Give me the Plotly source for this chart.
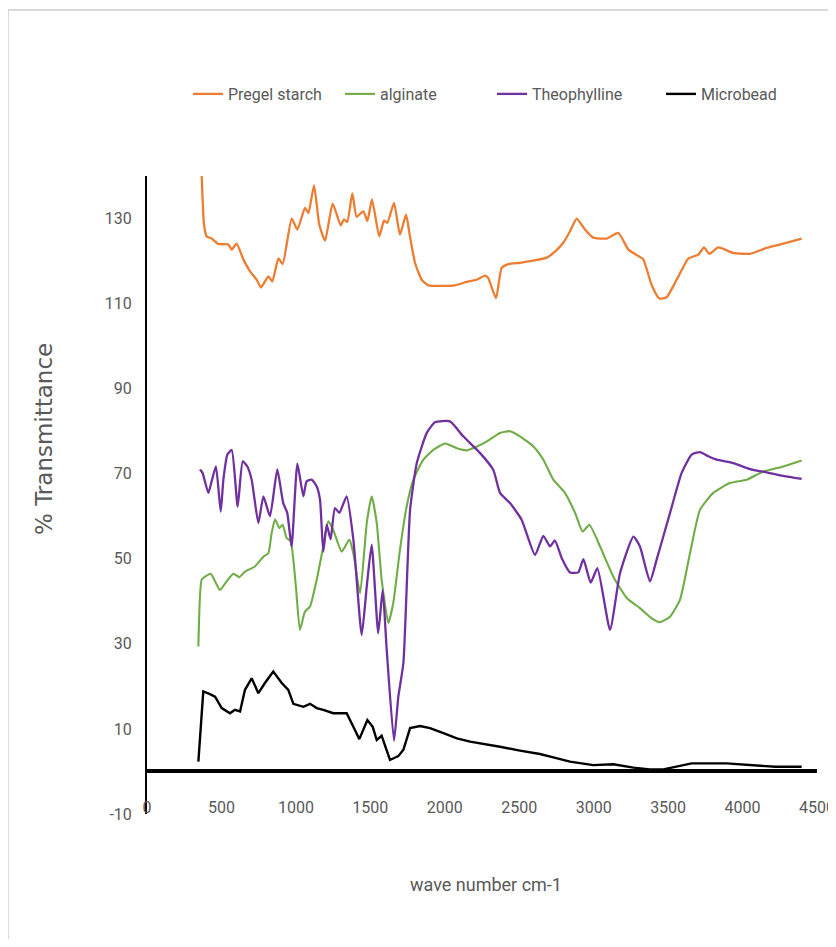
import plotly.graph_objects as go

# ---- data ----
starch_x = [367, 383, 401, 434, 479, 546, 569, 602, 647, 692, 737, 766, 815, 842, 882, 911, 972, 1010, 1061, 1084,
            1122, 1157, 1196, 1247, 1301, 1323, 1345, 1379, 1408, 1453, 1480, 1511, 1560, 1592, 1614, 1659, 1699, 1740,
            1766, 1800, 1845, 1890, 2069, 2147, 2214, 2270, 2292, 2344, 2382, 2427, 2505, 2595, 2685, 2740, 2796, 2841,
            2886, 2942, 2997, 3088, 3166, 3233, 3289, 3333, 3390, 3441, 3490, 3557, 3636, 3703, 3741, 3777, 3837, 3938,
            4050, 4162, 4274, 4397]
starch_y = [140.5, 128.6, 125.8, 125.3, 124.0, 123.9, 122.7, 124.1, 120.4, 117.6, 115.6, 113.8, 116.4, 115.2, 120.6,
            119.3, 130.0, 127.4, 132.5, 131.3, 137.8, 128.6, 124.8, 133.5, 128.4, 129.8, 129.2, 135.9, 130.4, 131.7,
            129.4, 134.5, 125.8, 129.5, 129.0, 133.7, 126.2, 130.9, 125.8, 119.6, 115.6, 114.3, 114.3, 115.1, 115.6,
            116.6, 116.0, 111.3, 118.4, 119.3, 119.6, 120.1, 120.8, 122.2, 124.3, 127.0, 130.0, 127.4, 125.5, 125.3,
            126.6, 122.7, 121.4, 120.4, 114.3, 111.2, 111.5, 115.6, 120.6, 121.5, 123.2, 121.7, 123.2, 121.9, 121.7,
            123.1, 124.1, 125.3]

alginate_x = [345, 367, 390, 428, 490, 535, 580, 620, 658, 725, 782, 815, 837, 860, 889, 911, 938, 965, 1000, 1027,
              1061, 1095, 1140, 1184, 1218, 1251, 1308, 1359, 1386, 1431, 1476, 1509, 1543, 1576, 1621, 1654, 1699,
              1744, 1789, 1856, 1923, 2002, 2081, 2149, 2216, 2283, 2371, 2438, 2505, 2595, 2662, 2729, 2807, 2875,
              2926, 2971, 3043, 3132, 3222, 3311, 3390, 3446, 3513, 3580, 3647, 3714, 3803, 3915, 4028, 4140, 4274,
              4397]
alginate_y = [29.4, 45.1, 45.8, 46.5, 42.7, 44.7, 46.5, 45.7, 47.0, 48.2, 50.5, 51.3, 56.0, 59.3, 57.2, 58.0, 54.9,
              54.1, 43.5, 33.3, 37.6, 38.8, 45.1, 52.9, 58.8, 56.8, 51.7, 54.5, 51.3, 41.9, 58.4, 64.7, 58.4, 45.1,
              34.9, 39.6, 52.1, 62.3, 68.6, 73.3, 75.6, 77.1, 76.0, 75.5, 76.4, 77.6, 79.6, 80.0, 78.8, 76.4, 73.3,
              68.6, 65.5, 60.8, 56.4, 58.0, 52.9, 45.8, 40.8, 38.4, 36.0, 35.1, 36.4, 40.4, 51.3, 61.5, 65.5, 67.8,
              68.6, 70.5, 71.7, 73.1]

theo_x = [356, 373, 412, 434, 463, 495, 513, 540, 569, 609, 643, 674, 703, 748, 782, 826, 875, 915, 942, 971, 1010,
          1050, 1072, 1106, 1140, 1162, 1184, 1207, 1233, 1262, 1292, 1341, 1386, 1442, 1476, 1509, 1553, 1583, 1610,
          1659, 1688, 1722, 1767, 1812, 1879, 1934, 2035, 2124, 2236, 2326, 2371, 2438, 2516, 2606, 2662, 2707, 2740,
          2785, 2841, 2897, 2931, 2980, 3025, 3110, 3177, 3267, 3311, 3378, 3423, 3513, 3591, 3658, 3714, 3770, 3826,
          3938, 4050, 4162, 4274, 4397]
theo_y = [71.0, 70.2, 65.5, 68.2, 71.7, 61.1, 68.6, 74.5, 75.6, 62.3, 72.9, 71.7, 68.6, 58.4, 64.7, 60.0, 71.0, 63.1,
          60.8, 52.9, 72.4, 64.7, 68.2, 68.6, 67.0, 63.9, 51.7, 58.0, 54.6, 61.9, 60.8, 64.7, 54.5, 32.1, 43.5, 53.3,
          32.5, 42.7, 28.6, 7.2, 17.6, 25.5, 61.5, 72.5, 79.6, 82.1, 82.3, 78.8, 74.9, 70.9, 65.5, 63.1, 59.2, 50.9,
          55.4, 52.9, 54.3, 50.2, 46.8, 46.8, 49.9, 44.4, 47.8, 33.3, 46.6, 55.2, 52.9, 44.7, 49.8, 60.8, 70.2, 74.5,
          75.1, 74.1, 73.3, 72.5, 71.1, 70.3, 69.5, 68.8]

micro_x = [345, 378, 423, 457, 502, 557, 591, 625, 658, 703, 748, 792, 848, 905, 949, 983, 1050, 1095, 1140, 1184,
           1251, 1341, 1386, 1426, 1480, 1516, 1543, 1576, 1632, 1688, 1722, 1767, 1834, 1901, 1991, 2081, 2170, 2259,
           2371, 2505, 2639, 2729, 2841, 2997, 3132, 3267, 3378, 3468, 3557, 3658, 3893, 4221, 4397]
micro_y = [2.3, 18.8, 18.2, 17.6, 14.9, 13.7, 14.5, 14.1, 19.2, 21.9, 18.4, 20.8, 23.5, 20.8, 19.2, 15.9, 15.2, 15.9,
           14.9, 14.5, 13.7, 13.7, 10.5, 7.6, 12.1, 10.5, 7.4, 8.4, 2.7, 3.6, 5.1, 10.2, 10.7, 10.2, 9.0, 7.8, 7.0,
           6.5, 5.8, 4.9, 4.1, 3.3, 2.3, 1.5, 1.7, 0.9, 0.5, 0.5, 1.1, 1.9, 1.9, 1.1, 1.1]

series_names = ["Pregel starch", "alginate", "Theophylline", "Microbead"]
series_colors = ["#ED7D31", "#70AD47", "#7030A0", "#000000"]
x_ticks = [0, 500, 1000, 1500, 2000, 2500, 3000, 3500, 4000, 4500]
y_ticks = [-10, 10, 30, 50, 70, 90, 110, 130]

FONT = "Roboto, Liberation Sans Narrow, sans-serif"
GRAY = "#595959"

fig = go.Figure()
data = [(starch_x, starch_y), (alginate_x, alginate_y), (theo_x, theo_y), (micro_x, micro_y)]
legend_ids = ["legend", "legend2", "legend3", "legend4"]
widths = [2.3, 2.1, 2.3, 2.4]
shapes_ = ["spline", "spline", "spline", "linear"]
for (xs, ys), name, col, lg, w, sh in zip(data, series_names, series_colors, legend_ids, widths, shapes_):
    line = dict(color=col, width=w, shape=sh)
    if sh == "spline":
        line["smoothing"] = 0.5
    fig.add_trace(go.Scatter(x=xs, y=ys, mode="lines", name=name, legend=lg, line=line))

OFF = 8  # page body margin
L, R, T, B = 139, 19, 168, 125
W, H = 828, 931
pw = W - L - R
ph = H - T - B

def px2paper_x(page_px):
    return (page_px - OFF - L) / pw

def px2paper_y(page_py):
    return (H - B - (page_py - OFF)) / ph

legend_common = dict(orientation="h", yanchor="middle", xanchor="left", bgcolor="rgba(0,0,0,0)",
                     font=dict(family=FONT, size=16, color=GRAY), itemwidth=30)
leg_px = [188, 340, 492, 661]

layout_kwargs = {}
for lg, lx in zip(legend_ids, leg_px):
    layout_kwargs[lg] = dict(legend_common, x=px2paper_x(lx), y=px2paper_y(94))

fig.update_layout(
    width=W, height=H,
    margin=dict(l=L, r=R, t=T, b=B, autoexpand=False),
    paper_bgcolor="white", plot_bgcolor="white",
    showlegend=True,
    xaxis=dict(range=[0, 4500], tickvals=x_ticks, ticktext=[str(v) for v in x_ticks],
               showgrid=False, zeroline=False, showline=False, ticks="", automargin=False,
               tickfont=dict(family=FONT, size=16, color=GRAY), ticklabelstandoff=-18),
    yaxis=dict(range=[-10, 140], tickvals=y_ticks, ticktext=[str(v) for v in y_ticks],
               showgrid=False, zeroline=True, zerolinecolor="black", zerolinewidth=3.5,
               showline=True, linecolor="black", linewidth=2, ticks="", automargin=False,
               tickfont=dict(family=FONT, size=16, color=GRAY), ticklabelstandoff=10),
    annotations=[
        dict(text="% Transmittance", textangle=-90, xref="paper", yref="paper",
             x=px2paper_x(44), y=px2paper_y(439), xanchor="center", yanchor="middle", showarrow=False,
             font=dict(family="DejaVu Sans", size=23, color=GRAY)),
        dict(text="wave number cm-1", xref="paper", yref="paper",
             x=px2paper_x(486), y=px2paper_y(884), xanchor="center", yanchor="middle", showarrow=False,
             font=dict(family=FONT, size=18, color=GRAY)),
    ],
    shapes=[
        dict(type="line", xref="paper", yref="paper", x0=px2paper_x(8), x1=px2paper_x(8),
             y0=px2paper_y(10), y1=px2paper_y(947), line=dict(color="#D9D9D9", width=2)),
        dict(type="line", xref="paper", yref="paper", x0=px2paper_x(8), x1=px2paper_x(836),
             y0=px2paper_y(10), y1=px2paper_y(10), line=dict(color="#D9D9D9", width=2)),
    ],
    **layout_kwargs,
)

fig.write_html("out.html")
